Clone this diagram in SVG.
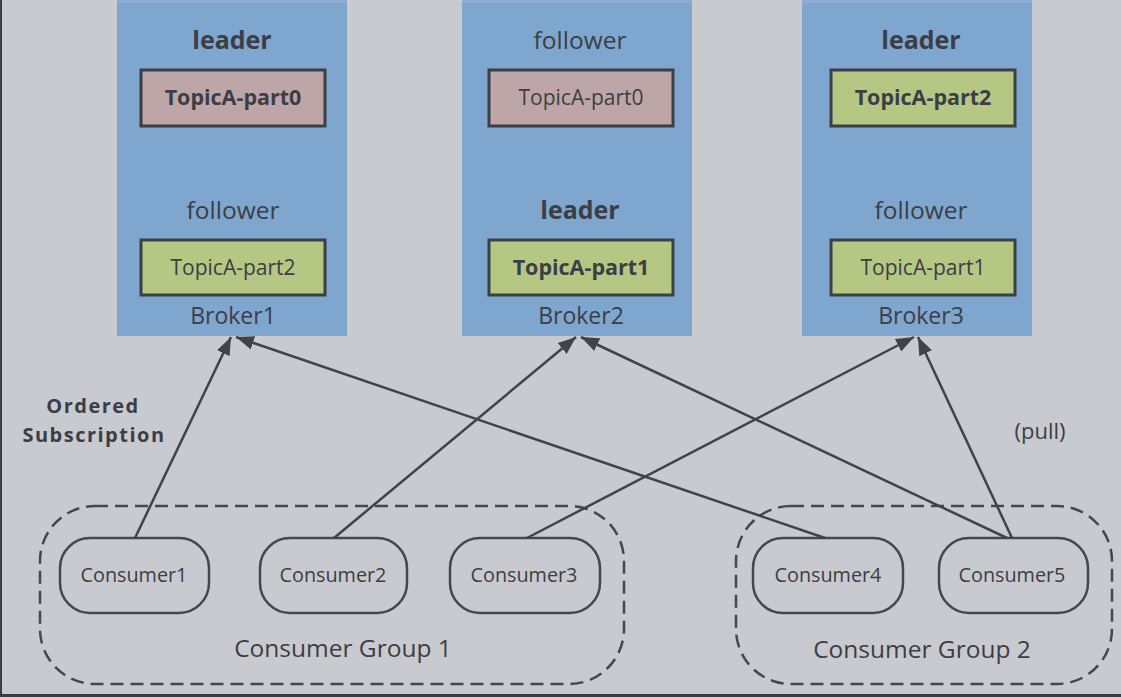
<svg xmlns="http://www.w3.org/2000/svg" width="1121" height="697" viewBox="0 0 1121 697">
<style>
text{font-family:"Open Sans","Noto Sans","DejaVu Sans",sans-serif;fill:#3b3e45;text-anchor:middle}
.broker{fill:#7fa6ce}
.top{fill:#8eadd0}
.topic{stroke:#3b3e45;stroke-width:3}
.pink{fill:#bea6a8}
.green{fill:#b6c784}
.b{font-weight:bold}
.role{font-size:24.5px}
.role.b{font-size:25px}
.tp{font-size:21px}
.tp.b{font-size:21.5px}
.bn{font-size:23px}
.pill{fill:none;stroke:#44474d;stroke-width:2.5}
.grp{fill:none;stroke:#44474d;stroke-width:2.5;stroke-dasharray:13 7}
.cn{font-size:19.8px}
.gn{font-size:24.5px}
.edge{stroke:#40434a;stroke-width:2.5;fill:none;marker-end:url(#ah)}
</style>
<defs>
<marker id="ah" markerUnits="userSpaceOnUse" markerWidth="18" markerHeight="14" refX="18" refY="7" orient="auto">
<path d="M0,0 L18,7 L0,14 z" fill="#40434a"/>
</marker>
</defs>
<rect width="1121" height="697" fill="#c9cacf"/>
<rect x="0" y="0" width="2" height="697" fill="#3a3d44"/>
<rect x="0" y="694" width="1121" height="3" fill="#3a3d44"/>

<g id="broker1">
<rect class="broker" x="117" y="0" width="230" height="336"/>
<rect class="top" x="117" y="0" width="230" height="3"/>
<text class="role b" x="232" y="49">leader</text>
<rect class="topic pink" x="141" y="70" width="184" height="56"/>
<text class="tp b" x="233" y="105">TopicA-part0</text>
<text class="role" x="233" y="219">follower</text>
<rect class="topic green" x="141" y="240" width="184" height="55"/>
<text class="tp" x="233" y="275">TopicA-part2</text>
<text class="bn" x="233" y="324">Broker1</text>
</g>

<g id="broker2">
<rect class="broker" x="462" y="0" width="230" height="336"/>
<rect class="top" x="462" y="0" width="230" height="3"/>
<text class="role" x="580" y="49">follower</text>
<rect class="topic pink" x="489" y="70" width="184" height="56"/>
<text class="tp" x="581" y="105">TopicA-part0</text>
<text class="role b" x="580" y="219">leader</text>
<rect class="topic green" x="489" y="240" width="184" height="55"/>
<text class="tp b" x="581" y="275">TopicA-part1</text>
<text class="bn" x="581" y="324">Broker2</text>
</g>

<g id="broker3">
<rect class="broker" x="802" y="0" width="230" height="336"/>
<rect class="top" x="802" y="0" width="230" height="3"/>
<text class="role b" x="921" y="49">leader</text>
<rect class="topic green" x="831" y="70" width="184" height="56"/>
<text class="tp b" x="923" y="105">TopicA-part2</text>
<text class="role" x="921" y="219">follower</text>
<rect class="topic green" x="831" y="240" width="184" height="55"/>
<text class="tp" x="923" y="275">TopicA-part1</text>
<text class="bn" x="921" y="324">Broker3</text>
</g>

<g id="group1">
<rect class="grp" x="40" y="506" width="584" height="178" rx="55" ry="55"/>
<text class="gn" x="343" y="657">Consumer Group 1</text>
</g>
<g id="group2">
<rect class="grp" x="736" y="506" width="376" height="178" rx="55" ry="55"/>
<text class="gn" x="922" y="658">Consumer Group 2</text>
</g>

<g id="consumer1">
<rect class="pill" x="60" y="538" width="149" height="75" rx="30" ry="30"/>
<text class="cn" x="134" y="582">Consumer1</text>
</g>
<g id="consumer2">
<rect class="pill" x="260" y="538" width="147" height="75" rx="30" ry="30"/>
<text class="cn" x="333" y="582">Consumer2</text>
</g>
<g id="consumer3">
<rect class="pill" x="450" y="538" width="150" height="75" rx="30" ry="30"/>
<text class="cn" x="524" y="582">Consumer3</text>
</g>
<g id="consumer4">
<rect class="pill" x="753" y="538" width="150" height="75" rx="30" ry="30"/>
<text class="cn" x="828" y="582">Consumer4</text>
</g>
<g id="consumer5">
<rect class="pill" x="939" y="538" width="149" height="75" rx="30" ry="30"/>
<text class="cn" x="1012" y="582">Consumer5</text>
</g>

<g id="labels">
<text class="b" x="93" y="413" style="font-size:20px;letter-spacing:1.5px">Ordered</text>
<text class="b" x="94" y="442" style="font-size:20px;letter-spacing:1.5px">Subscription</text>
<text x="1040" y="439" style="font-size:22px">(pull)</text>
</g>

<g id="connectors">
<line class="edge" x1="135" y1="538" x2="231" y2="337"/>
<line class="edge" x1="825" y1="538" x2="236" y2="337"/>
<line class="edge" x1="334" y1="538" x2="576" y2="337"/>
<line class="edge" x1="1007" y1="538" x2="581" y2="337"/>
<line class="edge" x1="527" y1="538" x2="914" y2="337"/>
<line class="edge" x1="1012" y1="538" x2="918" y2="337"/>
</g>
</svg>
